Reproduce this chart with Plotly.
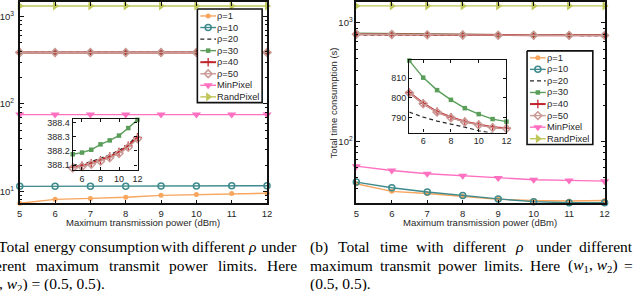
import plotly.graph_objects as go

W, H = 640, 291

# ---------------- data ----------------
x_power = [5, 6, 7, 8, 9, 10, 11, 12]
series_names = ["ρ=1", "ρ=10", "ρ=20", "ρ=30", "ρ=40", "ρ=50", "MinPixel", "RandPixel"]

energy_rho1 = [7.3, 8.1, 8.3, 8.55, 9.0, 9.2, 9.45, 9.5]
energy_rho10 = [11.4, 11.4, 11.4, 11.45, 11.5, 11.5, 11.55, 11.6]
energy_rho20 = [388.100, 388.106, 388.124, 388.146, 388.172, 388.203, 388.246, 388.308]
energy_rho30 = [388.176, 388.188, 388.208, 388.246, 388.274, 388.308, 388.361, 388.419]
energy_rho40 = [388.085, 388.095, 388.113, 388.135, 388.160, 388.192, 388.236, 388.296]
energy_rho50 = [388.078, 388.088, 388.105, 388.126, 388.151, 388.182, 388.225, 388.285]
energy_min = [75.5, 75.5, 75.5, 75.5, 75.5, 75.5, 75.5, 75.5]
energy_rand = [1320, 1320, 1320, 1320, 1320, 1320, 1320, 1320]

time_rho1 = [44.0, 38.0, 36.4, 34.5, 32.6, 31.8, 31.5, 31.8]
time_rho10 = [45.5, 40.8, 37.5, 35.0, 32.8, 31.1, 30.5, 30.5]
time_rho20 = [792.8, 790.3, 788.3, 786.8, 785.2, 783.4, 782.0, 781.0]
time_rho30 = [818.8, 810.2, 803.9, 799.0, 794.8, 791.8, 789.3, 788.0]
time_rho40 = [802.7, 797.2, 793.0, 790.2, 788.0, 786.5, 785.2, 784.7]
time_rho50 = [802.5, 797.0, 792.8, 790.0, 787.8, 786.3, 785.0, 784.5]
time_min = [62.0, 57.0, 53.5, 51.5, 49.2, 47.6, 47.0, 46.3]
time_rand = [1390, 1390, 1390, 1390, 1390, 1390, 1390, 1390]

energy_series = [energy_rho1, energy_rho10, energy_rho20, energy_rho30,
                 energy_rho40, energy_rho50, energy_min, energy_rand]
time_series = [time_rho1, time_rho10, time_rho20, time_rho30,
               time_rho40, time_rho50, time_min, time_rand]
inset_idx = [2, 3, 4, 5]  # rho=20..50 shown in the insets

log_tickvals = [10, 100, 1000]
log_ticktext = ["10<sup>1</sup>", "10<sup>2</sup>", "10<sup>3</sup>"]
inset_x_ticks = [6, 8, 10, 12]
energy_inset_ticks = [388.1, 388.2, 388.3, 388.4]
time_inset_ticks = [790, 800, 810]

x_title = "Maximum transmission power (dBm)"
y_title_right = "Total time consumption (s)"

# ---------------- styles ----------------
styles = [
    dict(color="#F8A55E", symbol="circle", size=5, width=1.4, dash="solid", mline=0),
    dict(color="#3E8A8C", symbol="circle-open", size=6, width=1.4, dash="solid", mline=1.5),
    dict(color="#262626", symbol=None, size=0, width=1.2, dash="4px,3px", mline=0),
    dict(color="#5A9E5A", symbol="square", size=4.5, width=1.4, dash="solid", mline=0),
    dict(color="#C0262D", symbol="cross-thin-open", size=6, width=2.0, dash="solid", mline=1.3),
    dict(color="#C99B96", symbol="diamond-open", size=6, width=1.4, dash="solid", mline=1.5),
    dict(color="#FF70C0", symbol="triangle-down", size=8, width=1.4, dash="solid", mline=0),
    dict(color="#BFC65A", symbol="triangle-right", size=8, width=1.4, dash="solid", mline=0),
]

TICKFONT = dict(family="Liberation Sans, Arial", size=9.5, color="#262626")
AXCOL = "#111111"

fig = go.Figure()


def add_series(xs, ys, st, name, xa, ya):
    if st["symbol"] is None:
        mode = "lines"
        marker = None
    else:
        mode = "lines+markers"
        marker = dict(symbol=st["symbol"], size=st["size"], color=st["color"],
                      line=dict(color=st["color"], width=st["mline"]))
    fig.add_trace(go.Scatter(
        x=xs, y=ys, mode=mode, name=name, showlegend=False,
        line=dict(color=st["color"], width=st["width"], dash=st["dash"]),
        marker=marker, xaxis=xa, yaxis=ya, cliponaxis=False))


for i, ys in enumerate(energy_series):
    add_series(x_power, ys, styles[i], series_names[i], "x", "y")
for i, ys in enumerate(time_series):
    add_series(x_power, ys, styles[i], series_names[i], "x2", "y2")
for i in inset_idx:
    add_series(x_power, energy_series[i], styles[i], series_names[i], "x3", "y3")
for i in inset_idx:
    add_series(x_power, time_series[i], styles[i], series_names[i], "x4", "y4")


def px_x(p):
    return p / W


def px_y(p):
    return 1 - p / H


minor_vals = [m * 10 ** k for k in range(0, 4) for m in range(2, 10)]


def main_x(dom, anchor):
    return dict(domain=dom, range=[5, 12], tickvals=x_power, ticks="inside", ticklen=4,
                tickcolor=AXCOL, mirror="ticks", showline=True, linecolor=AXCOL, linewidth=1.6,
                showgrid=False, zeroline=False, tickfont=TICKFONT, anchor=anchor, fixedrange=True)


def main_y(dom, rng, anchor, standoff=0):
    return dict(domain=dom, type="log", range=rng, tickvals=log_tickvals, ticktext=log_ticktext,
                ticks="inside", ticklen=4, tickcolor=AXCOL, mirror="ticks", showline=True,
                linecolor=AXCOL, linewidth=1.6, showgrid=False, zeroline=False,
                tickfont=TICKFONT, anchor=anchor, fixedrange=True, ticklabelstandoff=standoff,
                minor=dict(tickvals=minor_vals, ticks="inside", ticklen=2, tickcolor=AXCOL,
                           showgrid=False))


INFONT = dict(family="Liberation Sans, Arial", size=9, color="#262626")


def inset_x(dom, anchor):
    return dict(domain=dom, range=[5, 12], tickvals=inset_x_ticks, ticks="inside", ticklen=3,
                tickcolor=AXCOL, mirror="ticks", showline=True, linecolor=AXCOL, linewidth=1.3,
                showgrid=False, zeroline=False, tickfont=INFONT, anchor=anchor, fixedrange=True)


def inset_y(dom, rng, tv, anchor):
    return dict(domain=dom, range=rng, tickvals=tv, ticks="inside", ticklen=3,
                tickcolor=AXCOL, mirror="ticks", showline=True, linecolor=AXCOL, linewidth=1.3,
                showgrid=False, zeroline=False, tickfont=INFONT, anchor=anchor, fixedrange=True)


top_px, bot_px = 1, 203
ydom_main = [px_y(bot_px), px_y(top_px)]

layout = dict(
    width=W, height=H, margin=dict(l=0, r=0, t=0, b=0),
    paper_bgcolor="white", plot_bgcolor="rgba(0,0,0,0)", showlegend=False,
    xaxis=main_x([px_x(13), px_x(265)], "y"),
    yaxis=main_y(ydom_main, [0.863, 3.166], "x", standoff=2),
    xaxis2=main_x([px_x(356), px_x(609)], "y2"),
    yaxis2=main_y(ydom_main, [1.479, 3.176], "x2"),
    xaxis3=inset_x([px_x(67), px_x(133)], "y3"),
    yaxis3=inset_y([px_y(170), px_y(118)], [388.062, 388.428], energy_inset_ticks, "x3"),
    xaxis4=inset_x([px_x(410), px_x(509)], "y4"),
    yaxis4=inset_y([px_y(132), px_y(59)], [782.5, 819.2], time_inset_ticks, "x4"),
    xaxis5=dict(domain=[0, 1], range=[0, W], visible=False, fixedrange=True, anchor="y5"),
    yaxis5=dict(domain=[0, 1], range=[H, 0], visible=False, fixedrange=True, anchor="x5"),
)
fig.update_layout(**layout)

annotations = []

# axis titles
annotations.append(dict(text=x_title, x=px_x(139), y=px_y(222), xref="paper", yref="paper",
                        showarrow=False, xanchor="center", yanchor="middle",
                        font=dict(family="Liberation Sans, Arial", size=9.5, color="#262626")))
annotations.append(dict(text=x_title, x=px_x(482.5), y=px_y(222), xref="paper", yref="paper",
                        showarrow=False, xanchor="center", yanchor="middle",
                        font=dict(family="Liberation Sans, Arial", size=9.5, color="#262626")))
annotations.append(dict(text=y_title_right, x=px_x(333), y=px_y(102), xref="paper", yref="paper",
                        showarrow=False, xanchor="center", yanchor="middle", textangle=-90,
                        font=dict(family="Liberation Sans, Arial", size=9.5, color="#262626")))

# ---------------- manual compact legends ----------------
LEG_ROW = 11.6


def draw_legend(bx0, by0, bx1, by1):
    fig.add_trace(go.Scatter(x=[bx0, bx1, bx1, bx0, bx0], y=[by0, by0, by1, by1, by0],
                             mode="lines", fill="toself", fillcolor="white",
                             line=dict(color="#111111", width=1.6), xaxis="x5", yaxis="y5",
                             showlegend=False, hoverinfo="skip"))
    for i, st in enumerate(styles):
        yy = by0 + 7 + i * LEG_ROW
        fig.add_trace(go.Scatter(x=[bx0 + 3, bx0 + 19], y=[yy, yy], mode="lines",
                                 line=dict(color=st["color"], width=st["width"], dash=st["dash"]),
                                 xaxis="x5", yaxis="y5", showlegend=False, hoverinfo="skip"))
        if st["symbol"] is not None:
            fig.add_trace(go.Scatter(x=[bx0 + 11], y=[yy], mode="markers",
                                     marker=dict(symbol=st["symbol"], size=st["size"],
                                                 color=st["color"],
                                                 line=dict(color=st["color"], width=st["mline"])),
                                     xaxis="x5", yaxis="y5", showlegend=False, hoverinfo="skip"))
        annotations.append(dict(text=series_names[i], x=px_x(bx0 + 20.5), y=px_y(yy),
                                xref="paper", yref="paper", showarrow=False,
                                xanchor="left", yanchor="middle", borderpad=0, borderwidth=0,
                                font=dict(family="Liberation Sans, Arial", size=9.3,
                                          color="#262626")))


draw_legend(194, 8, 260, 102)
draw_legend(530, 50, 597, 144)

# ---------------- captions (justified, word by word) ----------------
TIMES = {' ': 250, '(': 333, ')': 333, '.': 250, ',': 250, '=': 564,
         'a': 444, 'b': 500, 'c': 444, 'd': 500, 'e': 444, 'f': 333, 'g': 500, 'h': 500,
         'i': 278, 'j': 278, 'k': 500, 'l': 278, 'm': 778, 'n': 500, 'o': 500, 'p': 500,
         'q': 500, 'r': 333, 's': 389, 't': 278, 'u': 500, 'v': 500, 'w': 722, 'x': 500,
         'y': 500, 'z': 444, 'T': 611, 'H': 722, 'M': 889}
for d in "0123456789":
    TIMES[d] = 500
CAP_SIZE = 15.5
CAPFONT = dict(family="Liberation Serif, Times New Roman", size=CAP_SIZE, color="black")
RHO = ("<i>ρ</i>", 0.75)
W12 = ("(<i>w</i><sub>1</sub>, <i>w</i><sub>2</sub>)", 3.2)


def tok(s):
    if isinstance(s, tuple):
        return s
    return (s, sum(TIMES.get(c, 500) for c in s) / 1000)


def cap_text(text, xpx, ypx, anchor="left"):
    annotations.append(dict(text=text, x=px_x(xpx), y=px_y(ypx), xref="paper", yref="paper",
                            showarrow=False, xanchor=anchor, yanchor="middle",
                            borderpad=0, borderwidth=0, font=CAPFONT))


def caption_line(words, xs, xe, ypx):
    toks = [tok(w) for w in words]
    total = sum(t[1] for t in toks) * CAP_SIZE
    gap = (xe - xs - total) / (len(toks) - 1)
    x = xs
    for k, (text, wem) in enumerate(toks):
        if k == len(toks) - 1:
            cap_text(text, xe, ypx, anchor="right")
        else:
            cap_text(text, x, ypx)
        x += wem * CAP_SIZE + gap


cap_y = [246.5, 265, 284]
LX0, LX1 = -30, 296
RX0, RX1 = 309, 638
caption_line(["(a)", "Total", "energy", "consumption", "with", "different", RHO, "under"],
             LX0, LX1, cap_y[0])
caption_line(["different", "maximum", "transmit", "power", "limits.", "Here"],
             LX0 - 5, LX1, cap_y[1])
cap_text(W12[0] + " = (0.5, 0.5).", LX0, cap_y[2])
caption_line(["(b)", "Total", "time", "with", "different", RHO, "under", "different"],
             RX0, RX1, cap_y[0])
caption_line(["maximum", "transmit", "power", "limits.", "Here", W12, "="], RX0, RX1, cap_y[1])
cap_text("(0.5, 0.5).", RX0, cap_y[2])

fig.update_layout(annotations=annotations)
fig.write_html("out.html", config={"displayModeBar": False},
               post_script="document.body.style.margin='0';document.body.style.overflow='hidden';")
